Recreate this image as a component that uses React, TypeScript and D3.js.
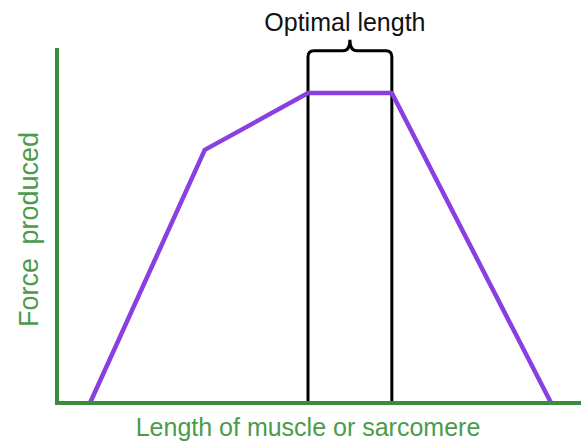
import React from 'react';
import * as d3 from 'd3';

const width = 581;
const height = 443;
const margin = { top: 48, right: 0, bottom: 40, left: 57 };

// length of muscle (arbitrary units) and force produced (% of max)
const lengths = [6.3, 28.2, 47.9, 63.9, 94.3];
const forces = [0, 71.3, 87.3, 87.3, 0];
const optimalRange = [47.9, 63.9];
const braceLevel = [99.2, 102.3];
const titles = ['Optimal length', 'Length of muscle or sarcomere', 'Force produced'];

const green = '#3a8c3a';
const greenText = '#4b9b4b';
const purple = '#8a3fe0';
const font = '"Liberation Sans", Arial, sans-serif';

const x = d3.scaleLinear().domain([0, 100]).range([margin.left, width - margin.right]);
const y = d3.scaleLinear().domain([0, 100]).range([height - margin.bottom, margin.top]);

const points = lengths.map((l, i) => [l, forces[i]] as [number, number]);
const line = d3
	.line<[number, number]>()
	.x(d => x(d[0]))
	.y(d => y(d[1]));

function bracePath() {
	const x0 = x(optimalRange[0]);
	const x1 = x(optimalRange[1]);
	const xc = (x0 + x1) / 2;
	const yb = y(braceLevel[0]);
	const yt = y(braceLevel[1]);
	const r = 6;
	const c = 7;
	const base = y(0);
	const p = d3.path();
	p.moveTo(x0, base);
	p.lineTo(x0, yb + r);
	p.quadraticCurveTo(x0, yb, x0 + r, yb);
	p.lineTo(xc - c, yb);
	p.quadraticCurveTo(xc, yb, xc, yt);
	p.quadraticCurveTo(xc, yb, xc + c, yb);
	p.lineTo(x1 - r, yb);
	p.quadraticCurveTo(x1, yb, x1, yb + r);
	p.lineTo(x1, base);
	return p.toString();
}

export default function App() {
	const [x0, x1] = x.range();
	const [y0, y1] = y.range();
	return (
		<svg
			width={width}
			height={height}
			style={{ position: 'absolute', left: 0, top: 0, background: '#fff' }}
		>
			<path d={bracePath()} fill="none" stroke="#000" strokeWidth={3} />
			<path d={line(points) || ''} fill="none" stroke={purple} strokeWidth={4.5} strokeLinejoin="round" />
			<path
				d={`M${x0},${y1}V${y0}H${x1}`}
				fill="none"
				stroke={green}
				strokeWidth={4}
			/>
			<text
				x={(x(optimalRange[0]) + x(optimalRange[1])) / 2 - 5}
				y={31}
				textAnchor="middle"
				fontFamily={font}
				fontSize={25}
				fill="#111"
			>
				{titles[0]}
			</text>
			<text
				x={308}
				y={436}
				textAnchor="middle"
				fontFamily={font}
				fontSize={25}
				fill={greenText}
			>
				{titles[1]}
			</text>
			<text
				transform={`translate(38, ${(y0 + y1) / 2 + 4}) rotate(-90)`}
				textAnchor="middle"
				fontFamily={font}
				fontSize={27}
				wordSpacing={6}
				fill={greenText}
			>
				{titles[2]}
			</text>
		</svg>
	);
}
